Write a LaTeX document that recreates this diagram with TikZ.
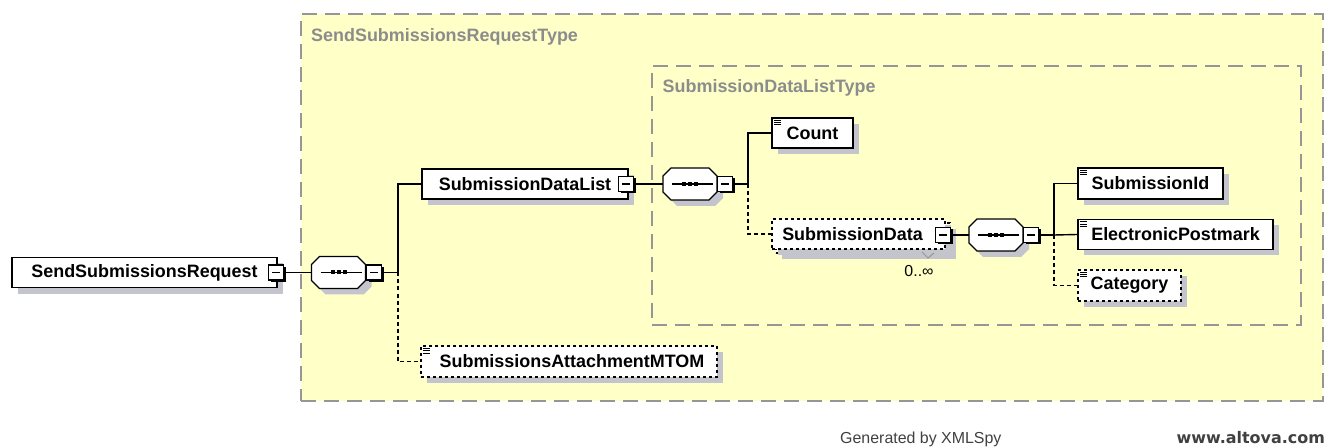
\documentclass[tikz,border=0pt]{standalone}
\usepackage{fontspec}
\setmainfont{Liberation Sans}
\newfontfamily\dvsans{DejaVu Sans}
\usetikzlibrary{shadows}
\definecolor{typefill}{RGB}{255,255,200}
\definecolor{typeline}{RGB}{150,150,150}
\definecolor{typetext}{RGB}{140,140,140}
\definecolor{shadowgray}{RGB}{196,196,204}
\definecolor{footgray}{RGB}{64,64,64}
% octagon path around node #1, shifted by (#2,#3)
\newcommand\octo[3]{([shift={(#2+8,#3)}]#1.north west) -- ([shift={(#2-8,#3)}]#1.north east) -- ([shift={(#2,#3+8)}]#1.north east) -- ([shift={(#2,#3-8)}]#1.south east) -- ([shift={(#2-8,#3)}]#1.south east) -- ([shift={(#2+8,#3)}]#1.south west) -- ([shift={(#2,#3-8)}]#1.south west) -- ([shift={(#2,#3+8)}]#1.north west) -- cycle}
\newcommand\seqshape[1]{%
  \fill[shadowgray] \octo{#1}{6}{6};
  \draw[line width=1.2bp, fill=white] \octo{#1}{0}{0};
  \draw[line width=1.2bp] ([xshift=9bp]#1.west) -- ([xshift=-4bp]#1.east);
  \foreach \dx in {-6,0,6} \fill ([shift={(\dx,0)}]#1.center) +(-2,-2) rectangle +(2,2);}
\newcommand\elemicon[1]{%
  \foreach \dy in {3,5.3,7.6} \draw[line width=0.8bp] ([shift={(3,\dy)}]#1.north west) -- ++(7,0);}
\begin{document}
\begin{tikzpicture}[x=1bp,y=-1bp,
  typebox/.style={draw=typeline, fill=typefill, line width=1.5bp, dash pattern=on 15bp off 8bp, inner sep=0},
  typetitle/.style={text=typetext, font=\bfseries\fontsize{18}{18}\selectfont, inner sep=0, anchor=base west},
  elem/.style={rectangle, draw=black, line width=1.4bp, fill=white, inner sep=0,
    font=\bfseries\fontsize{18}{18}\selectfont,
    drop shadow={fill=shadowgray, opacity=1, shadow xshift=6bp, shadow yshift=-6bp}},
  optelem/.style={elem, dash pattern=on 3bp off 3bp},
  expander/.style={rectangle, draw=black, line width=1.2bp, fill=white, minimum size=15bp, inner sep=0,
    drop shadow={fill=black, opacity=1, shadow xshift=2bp, shadow yshift=-2bp},
    path picture={\draw[line width=1.2bp] ([xshift=3.5bp]path picture bounding box.west) -- ([xshift=-3.5bp]path picture bounding box.east);}},
  seq/.style={rectangle, minimum width=54bp, minimum height=32bp, inner sep=0, outer sep=0},
  conn/.style={draw=black, line width=1.4bp},
  optconn/.style={conn, dash pattern=on 4bp off 3bp}
]
\useasboundingbox (0,0) rectangle (1327,448);

% type boxes
\node[typebox, minimum width=1022bp, minimum height=387bp] (T1) at (812,207.5) {};
\node[typetitle] (T1t) at (311,41.5) {SendSubmissionsRequestType};
\node[typebox, minimum width=649bp, minimum height=259bp] (T2) at (976.5,195.5) {};
\node[typetitle] (T2t) at (662.5,93) {SubmissionDataListType};

% elements
\node[elem, minimum width=265bp, minimum height=30bp] (root) at (144.5,272.5) {SendSubmissionsRequest};
\node[expander] (E0) at (276,272.5) {};
\node[seq] (S1) at (338.5,272.5) {};
\seqshape{S1}
\node[expander] (E1) at (374,272.5) {};
\coordinate (J1) at (398,272.5);

\node[elem, minimum width=206bp, minimum height=30bp] (SDL) at (525,184) {SubmissionDataList};
\node[expander] (E2) at (626,184) {};
\node[optelem, minimum width=296bp, minimum height=31bp] (SAM) at (569,361.5) {\hspace*{6bp}SubmissionsAttachmentMTOM};
\elemicon{SAM}

\node[seq] (S2) at (690,184) {};
\seqshape{S2}
\node[expander] (E3) at (725,184) {};
\coordinate (J2) at (748,184);

\node[elem, minimum width=81bp, minimum height=30bp] (Count) at (812.5,133) {Count};
\elemicon{Count}

\node[optelem, minimum width=174bp, minimum height=30bp] (SDback) at (863,238) {};
\node[optelem, minimum width=173bp, minimum height=30bp, drop shadow={fill=none,opacity=0}] (SD) at (858.5,234) {SubmissionData\hspace*{12bp}};
\node[expander] (E4) at (943,235) {};
\node[font=\fontsize{16}{16}\selectfont, inner sep=0] (occ) at (919,271) {0..∞};
\draw[typeline, line width=1bp] (922,252) -- (928,258) -- (934,253);

\node[seq] (S3) at (996,235) {};
\seqshape{S3}
\node[expander] (E5) at (1031,235) {};
\coordinate (J3) at (1054,235);

\node[elem, minimum width=145bp, minimum height=31bp] (SID) at (1150.5,183.5) {SubmissionId};
\elemicon{SID}
\node[elem, minimum width=195bp, minimum height=30bp] (EP) at (1175.5,234.5) {ElectronicPostmark};
\elemicon{EP}
\node[optelem, minimum width=103bp, minimum height=31bp] (Cat) at (1129.5,285.5) {Category};
\elemicon{Cat}

% connectors
\draw[conn] (E0.east) -- (S1.west);
\draw[conn] (E1.east) -- (J1) |- (SDL.west);
\draw[optconn] (J1) |- (SAM.west);
\draw[conn] (E2.east) -- (S2.west);
\draw[conn] (E3.east) -- (J2) |- (Count.west);
\draw[optconn] (J2) |- (SD.west);
\draw[conn] (E4.east) -- (S3.west);
\draw[conn] (E5.east) -- (J3) |- (SID.west);
\draw[conn] (J3) -- (EP.west);
\draw[optconn] (J3) |- (Cat.west);

% footer
\node[text=footgray, font=\fontsize{16}{16}\selectfont, inner sep=0, anchor=base west] (gen) at (840,443) {Generated by XMLSpy};
\node[text=footgray, font=\dvsans\bfseries\fontsize{16}{16}\selectfont, inner sep=0, anchor=base east] (www) at (1325,443) {www.altova.com};
\end{tikzpicture}
\end{document}
